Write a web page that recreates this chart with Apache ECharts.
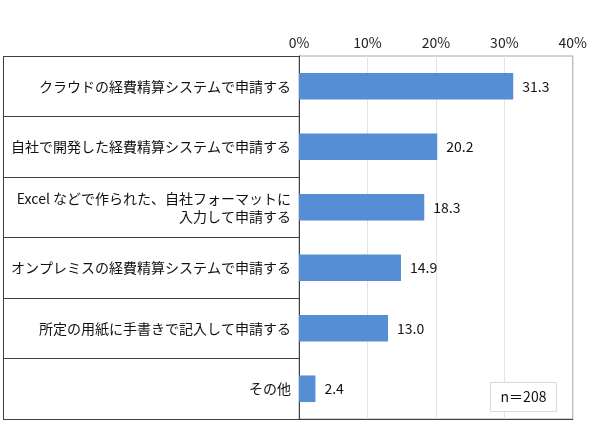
<!DOCTYPE html>
<html>
<head>
<meta charset="utf-8">
<script src="https://cdn.jsdelivr.net/npm/echarts@6/dist/echarts.min.js"></script>
<style>
  html, body { margin: 0; padding: 0; background: #fff; }
  #main { width: 590px; height: 434px; }
</style>
</head>
<body>
<div id="main"></div>
<script>
var categories = [
  'クラウドの経費精算システムで申請する',
  '自社で開発した経費精算システムで申請する',
  'Excel などで作られた、自社フォーマットに\n入力して申請する',
  'オンプレミスの経費精算システムで申請する',
  '所定の用紙に手書きで記入して申請する',
  'その他'
];
var values = [31.3, 20.2, 18.3, 14.9, 13.0, 2.4];
var sampleNote = 'n＝208';

var font = '"Noto Sans CJK JP", "Noto Sans", sans-serif';
var chart = echarts.init(document.getElementById('main'));

var option = {
  animation: false,
  textStyle: { fontFamily: font },
  grid: {
    left: 299, right: 15, top: 56, bottom: 15,
    show: true,
    borderColor: '#a6a6a6',
    borderWidth: 1,
    backgroundColor: 'transparent'
  },
  xAxis: [{
    type: 'value',
    position: 'top',
    min: 0, max: 40, interval: 10,
    axisLine: { show: false },
    axisTick: { show: false },
    axisLabel: {
      formatter: '{value}%',
      color: '#222',
      fontSize: 14,
      margin: 6,
      fontFamily: font
    },
    splitLine: { lineStyle: { color: '#e3e3e3', width: 1 } }
  }, {
    type: 'value',
    position: 'bottom',
    min: 0, max: 40, interval: 10,
    axisLine: { show: true, lineStyle: { color: '#404040', width: 1 } },
    axisTick: { show: false },
    axisLabel: { show: false },
    splitLine: { show: false }
  }],
  yAxis: {
    type: 'category',
    inverse: true,
    data: categories,
    axisLine: { show: true, lineStyle: { color: '#404040', width: 1 } },
    axisTick: { show: true, length: 296, lineStyle: { color: '#404040', width: 1 } },
    axisLabel: {
      color: '#111',
      fontSize: 14,
      margin: 8,
      lineHeight: 18,
      align: 'right',
      fontFamily: font
    }
  },
  series: [{
    type: 'bar',
    data: values,
    barWidth: '44%',
    itemStyle: { color: '#558ed5' },
    label: {
      show: true,
      position: 'right',
      distance: 9,
      color: '#111',
      fontSize: 14,
      fontFamily: font,
      formatter: function (p) { return p.value.toFixed(1); }
    }
  }],
  graphic: [{
    type: 'line',
    shape: { x1: 3.5, y1: 56, x2: 3.5, y2: 419.5 },
    style: { stroke: '#404040', lineWidth: 1 }
  }, {
    type: 'rect',
    shape: { x: 490.5, y: 382.5, width: 66, height: 29 },
    style: { fill: '#fff', stroke: '#d9d9d9', lineWidth: 1 },
    z: 10
  }, {
    type: 'text',
    x: 523.5, y: 397,
    style: {
      text: sampleNote,
      fill: '#111',
      font: '14px ' + font,
      align: 'center',
      verticalAlign: 'middle'
    },
    z: 11
  }]
};

chart.setOption(option);
</script>
</body>
</html>
